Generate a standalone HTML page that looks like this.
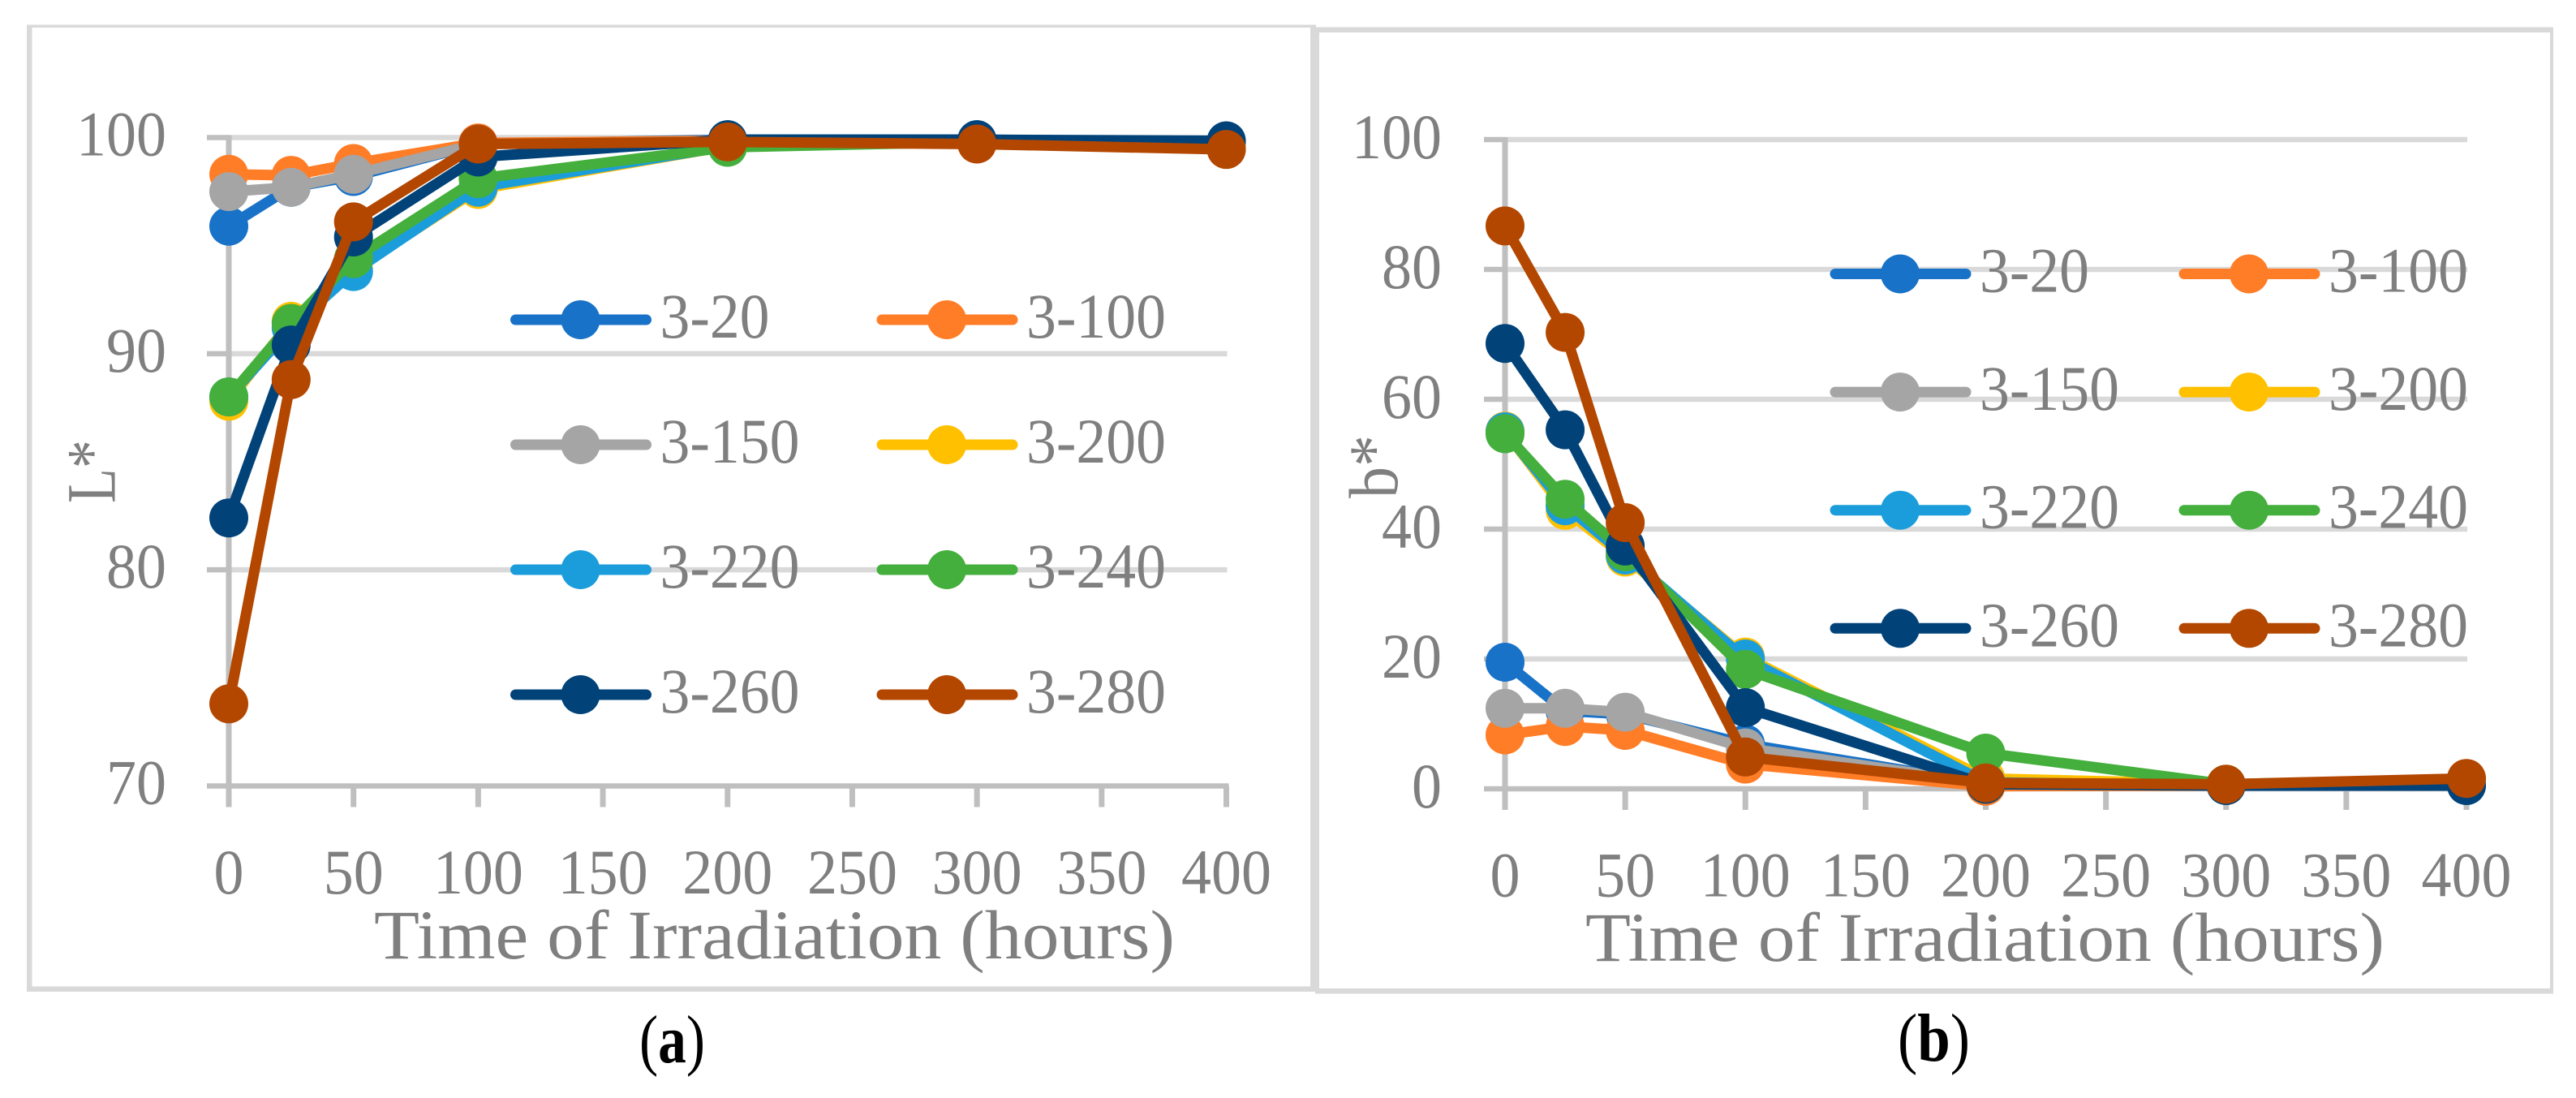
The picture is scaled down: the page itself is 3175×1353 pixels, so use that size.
<!DOCTYPE html>
<html lang="en">
<head>
<meta charset="utf-8">
<title>L* and b* versus time of irradiation</title>
<style>
html,body{margin:0;padding:0;background:#fff;width:3175px;height:1353px;overflow:hidden}
svg{display:block;font-family:"Liberation Serif",serif}
</style>
</head>
<body>
<svg id="figure" xmlns="http://www.w3.org/2000/svg" width="3175" height="1353" viewBox="0 0 3175 1353">
  <rect x="0" y="0" width="3175" height="1353" fill="#ffffff"/>
  <g fill="#d9d9d9">
    <rect x="33" y="30.5" width="1589" height="3.5"/>
    <rect x="33" y="30.5" width="6.5" height="1191.5"/>
    <rect x="33" y="1215.5" width="1589" height="6.5"/>
    <rect x="1615" y="30.5" width="7" height="1191.5"/>
  </g>
  <g fill="#d9d9d9">
    <rect x="1621" y="33.5" width="1526" height="6.5"/>
    <rect x="1621" y="33.5" width="5" height="1191"/>
    <rect x="1621" y="1218" width="1526" height="6.5"/>
    <rect x="3143" y="33.5" width="4" height="1191"/>
  </g>
  <g id="panel-a"></g>
  <g id="panel-b"></g>
  <text x="461" y="1181" font-size="86" fill="#7f7f7f" textLength="987" lengthAdjust="spacingAndGlyphs">Time of Irradiation (hours)</text>
  <text x="1954" y="1184" font-size="86" fill="#7f7f7f" textLength="985" lengthAdjust="spacingAndGlyphs">Time of Irradiation (hours)</text>
  <text transform="translate(141.5,620) rotate(-90)" font-size="86" fill="#7f7f7f" textLength="78" lengthAdjust="spacingAndGlyphs">L*</text>
  <text transform="translate(1722,614) rotate(-90)" font-size="86" fill="#7f7f7f" textLength="78" lengthAdjust="spacingAndGlyphs">b*</text>
  <text x="788" y="1309" font-size="84" fill="#000000" textLength="81" lengthAdjust="spacingAndGlyphs">(<tspan font-weight="bold">a</tspan>)</text>
  <text x="2339" y="1307" font-size="84" fill="#000000" textLength="89" lengthAdjust="spacingAndGlyphs">(<tspan font-weight="bold">b</tspan>)</text>
</svg>
<script>
// ---- data ----
const hours = [0, 25, 50, 100, 200, 300, 400];
const xTickLabels = [0, 50, 100, 150, 200, 250, 300, 350, 400];
const seriesNames = ['3-20', '3-100', '3-150', '3-200', '3-220', '3-240', '3-260', '3-280'];
const seriesColors = ['#1872c8', '#ff7d27', '#a5a5a5', '#ffc000', '#1c9ddb', '#44af3c', '#014379', '#b34700'];
const yTicksL = [70, 80, 90, 100];
const yTicksB = [0, 20, 40, 60, 80, 100];

const lStar20  = [95.9, 97.7, 98.2, 99.7, 99.9, 99.9, 99.8];
const lStar100 = [98.3, 98.25, 98.8, 99.75, 99.85, 99.8, 99.5];
const lStar150 = [97.5, 97.7, 98.3, 99.7, 99.8, 99.8, 99.5];
const lStar200 = [87.8, 91.5, 93.9, 97.6, 99.6, 99.8, 99.5];
const lStar220 = [88.0, 91.2, 93.8, 97.7, 99.6, 99.8, 99.5];
const lStar240 = [88.0, 91.4, 94.4, 98.1, 99.55, 99.8, 99.5];
const lStar260 = [82.4, 90.4, 95.4, 99.1, 99.9, 99.9, 99.85];
const lStar280 = [73.8, 88.8, 96.1, 99.7, 99.8, 99.7, 99.45];

const bStar20  = [19.5, 12.0, 11.5, 6.9, 0.8, 0.5, 0.5];
const bStar100 = [8.3, 9.6, 9.0, 3.8, 0.4, 0.5, 1.0];
const bStar150 = [12.4, 12.4, 11.8, 6.3, 0.8, 0.6, 1.0];
const bStar200 = [55.1, 42.9, 35.7, 20.3, 1.6, 0.7, 1.4];
const bStar220 = [55.0, 43.6, 36.0, 20.0, 1.0, 0.5, 1.0];
const bStar240 = [54.7, 44.6, 36.5, 18.4, 5.5, 0.7, 1.5];
const bStar260 = [68.6, 55.3, 37.4, 12.5, 0.7, 0.5, 0.5];
const bStar280 = [86.7, 70.3, 41.0, 4.9, 0.9, 0.7, 1.6];

const lValues = [lStar20, lStar100, lStar150, lStar200, lStar220, lStar240, lStar260, lStar280];
const bValues = [bStar20, bStar100, bStar150, bStar200, bStar220, bStar240, bStar260, bStar280];

// ---- drawing ----
const NS = 'http://www.w3.org/2000/svg';
const TEXT_COLOR = '#7f7f7f';
const GRID_COLOR = '#d9d9d9';
const AXIS_COLOR = '#bfbfbf';
const LINE_W = 13;
const MARKER_R = 24;

function make(parent, tag, attrs, name) {
  const el = document.createElementNS(NS, tag);
  for (const k in attrs) el.setAttribute(k, attrs[k]);
  
  
  parent.appendChild(el);
  return el;
}

function labelWidth(str) {
  let w = 0;
  for (const c of String(str)) w += (c === '-') ? 24 : 37;
  return w;
}

function addLabel(parent, str, x, y, name) {
  const len = labelWidth(str);
  const t = make(parent, 'text', {
    x: x, y: y, 'font-size': 78, fill: TEXT_COLOR,
    textLength: len, lengthAdjust: 'spacingAndGlyphs'
  }, name);
  t.textContent = String(str);
  return len;
}

function drawPanel(root, cfg) {
  const xs = h => cfg.x0 + (h - 0) * (cfg.x400 - cfg.x0) / 400;
  const ys = v => cfg.yBottom + (v - cfg.yMin) * (cfg.yTop - cfg.yBottom) / (cfg.yMax - cfg.yMin);

  // gridlines & y ticks
  cfg.yTicks.forEach(v => {
    const y = ys(v);
    if (v !== cfg.yMin) {
      make(root, 'line', { x1: cfg.x0, x2: cfg.x400 + 1, y1: y, y2: y, stroke: GRID_COLOR, 'stroke-width': 6.5 }, 'gridline-' + v);
    }
    make(root, 'line', { x1: cfg.tickLeft, x2: cfg.x0, y1: y, y2: y, stroke: AXIS_COLOR, 'stroke-width': 6.5 }, 'y-tick-' + v);
    const len = labelWidth(v);
    addLabel(root, v, cfg.yLabelRight - len, y + cfg.yLabelDy, 'y-tick-label-' + v);
  });

  // axes
  make(root, 'line', { x1: cfg.x0, x2: cfg.x0, y1: ys(cfg.yMax) - 3, y2: ys(cfg.yMin) + 26, stroke: AXIS_COLOR, 'stroke-width': 7 }, 'y-axis-line');
  make(root, 'line', { x1: cfg.x0, x2: cfg.x400 + 3, y1: ys(cfg.yMin), y2: ys(cfg.yMin), stroke: AXIS_COLOR, 'stroke-width': 6.5 }, 'x-axis-line');

  // x ticks
  xTickLabels.forEach(h => {
    const x = xs(h);
    make(root, 'line', { x1: x, x2: x, y1: ys(cfg.yMin), y2: ys(cfg.yMin) + 26, stroke: AXIS_COLOR, 'stroke-width': 7 }, 'x-tick-' + h);
    const len = labelWidth(h);
    addLabel(root, h, x - len / 2, cfg.xLabelY, 'x-tick-label-' + h);
  });

  // series
  cfg.values.forEach((vals, i) => {
    const g = make(root, 'g', {}, 'series-' + seriesNames[i]);
    const pts = vals.map((v, j) => xs(hours[j]) + ',' + ys(v)).join(' ');
    make(g, 'polyline', { points: pts, fill: 'none', stroke: seriesColors[i], 'stroke-width': LINE_W, 'stroke-linejoin': 'round' }, 'line-' + seriesNames[i]);
    vals.forEach((v, j) => {
      make(g, 'circle', { cx: xs(hours[j]), cy: ys(v), r: MARKER_R, fill: seriesColors[i] }, 'point-' + seriesNames[i] + '-' + hours[j]);
    });
  });

  // legend
  seriesNames.forEach((name, i) => {
    const col = i % 2;
    const row = Math.floor(i / 2);
    const lx = cfg.legendCols[col];
    const ly = cfg.legendY0 + row * cfg.legendDy;
    const g = make(root, 'g', {}, 'legend-entry-' + name);
    make(g, 'line', { x1: lx + 6, x2: lx + 167, y1: ly, y2: ly, stroke: seriesColors[i], 'stroke-width': LINE_W, 'stroke-linecap': 'round' }, 'legend-line-' + name);
    make(g, 'circle', { cx: lx + 86, cy: ly, r: MARKER_R, fill: seriesColors[i] }, 'legend-marker-' + name);
    addLabel(g, name, lx + 184, ly + 22, 'legend-label-' + name);
  });
}

drawPanel(document.getElementById('panel-a'), {
  x0: 282, x400: 1511.5, yBottom: 968.5, yTop: 169.5, yMin: 70, yMax: 100,
  yTicks: yTicksL, values: lValues, tickLeft: 255, yLabelRight: 205, yLabelDy: 22,
  xLabelY: 1101, legendCols: [629.5, 1081], legendY0: 394, legendDy: 154
});
drawPanel(document.getElementById('panel-b'), {
  x0: 1855, x400: 3040, yBottom: 972, yTop: 172, yMin: 0, yMax: 100,
  yTicks: yTicksB, values: bValues, tickLeft: 1829, yLabelRight: 1777, yLabelDy: 23,
  xLabelY: 1104.5, legendCols: [2256, 2686], legendY0: 337.5, legendDy: 145.6
});
</script>
</body>
</html>
